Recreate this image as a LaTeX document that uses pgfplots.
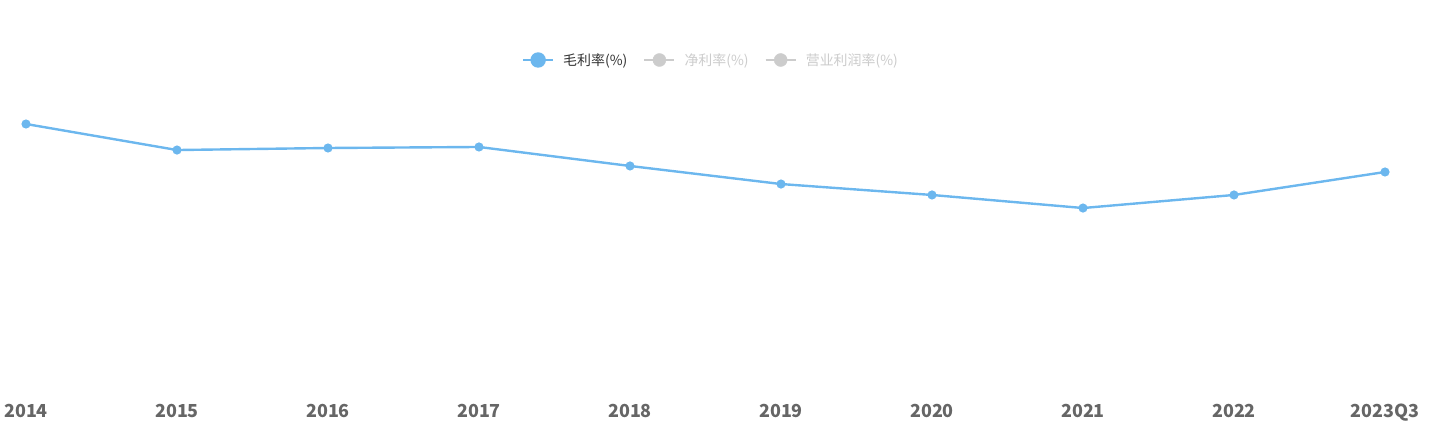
\documentclass[border=0pt]{standalone}
\usepackage{pgfplots}
\pgfplotsset{compat=1.18}
\usepackage{fontspec}
\setmainfont{Noto Sans CJK SC}
\definecolor{gross}{HTML}{6CB7EE}
\definecolor{offgray}{HTML}{CCCCCC}
\definecolor{ticktext}{HTML}{666666}
\definecolor{legtext}{HTML}{333333}
\begin{document}
\begin{tikzpicture}
\begin{axis}[
    at={(26bp,40bp)}, anchor=south west,
    scale only axis,
    width=1359bp, height=290bp,
    xmin=0, xmax=9, ymin=0, ymax=40,
    clip=false,
    axis line style={draw=none},
    tick style={draw=none},
    ytick=\empty,
    xtick={0,...,9},
    xticklabels={2014,2015,2016,2017,2018,2019,2020,2021,2022,2023Q3},
    xticklabel style={font=\fontsize{18}{20}\selectfont\bfseries, text=ticktext,
        anchor=base, yshift=-32bp, inner sep=0pt},
    legend columns=3,
    legend style={draw=none, at={(0.504,1.1207)}, anchor=center,
        font=\fontsize{14}{16}\selectfont, inner sep=0pt,
        /tikz/every odd column/.append style={column sep=7bp},
        /tikz/every even column/.append style={column sep=14bp}},
    legend image code/.code={
        \draw[#1, line width=2.2bp] (0bp,0bp) -- (30bp,0bp);
        \fill[#1] (15bp,0bp) circle (6.5bp);
    },
]
\addplot[gross, line width=2.4bp, mark=*, mark size=3.3bp,
    mark options={fill=gross, draw=gross}] coordinates {
    (0,36.00) (1,32.41) (2,32.69) (3,32.83) (4,30.21)
    (5,27.72) (6,26.21) (7,24.41) (8,26.21) (9,29.38)
};
\addlegendentry{\textcolor{legtext}{毛利率(\%)}}
\addlegendimage{offgray}
\addlegendentry{\textcolor{offgray}{净利率(\%)}}
\addlegendimage{offgray}
\addlegendentry{\textcolor{offgray}{营业利润率(\%)}}
\end{axis}
\pgfresetboundingbox
\path[use as bounding box] (0,0) rectangle (1431bp,425bp);
\end{tikzpicture}
\end{document}
